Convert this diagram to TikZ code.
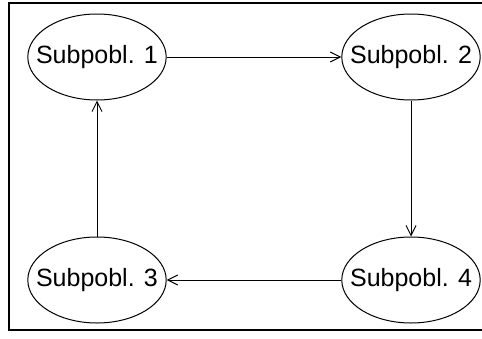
\documentclass[tikz,border=0pt]{standalone}
\usepackage{fontspec}
\setmainfont{Liberation Sans}
\usetikzlibrary{shapes,arrows.meta,positioning,calc}

\tikzset{
    subpob/.style={draw, ellipse, line width=0.5pt, inner xsep=-6pt, inner ysep=0pt,
        minimum width=68pt, minimum height=43pt,
        font=\fontsize{12.5}{14}\selectfont},
    flow/.style={-{Straight Barb[length=5pt,width=5pt]}, line width=0.5pt}
}

\begin{document}
\begin{tikzpicture}[x=0.5pt, y=-0.5pt]
    \useasboundingbox (0,0) rectangle (482,338);

    % 外框
    \draw[line width=1pt] (9,3) rectangle (500,330);

    % 子群体
    \node[subpob] (s1) at (97,57) {Subpobl. 1};
    \node[subpob] (s2) at (411,57) {Subpobl. 2};
    \node[subpob] (s3) at (97,280) {Subpobl. 3};
    \node[subpob] (s4) at (411,280) {Subpobl. 4};

    % 迁移方向
    \draw[flow] (s1) -- (s2);
    \draw[flow] (s2) -- (s4);
    \draw[flow] (s4) -- (s3);
    \draw[flow] (s3) -- (s1);
\end{tikzpicture}
\end{document}
